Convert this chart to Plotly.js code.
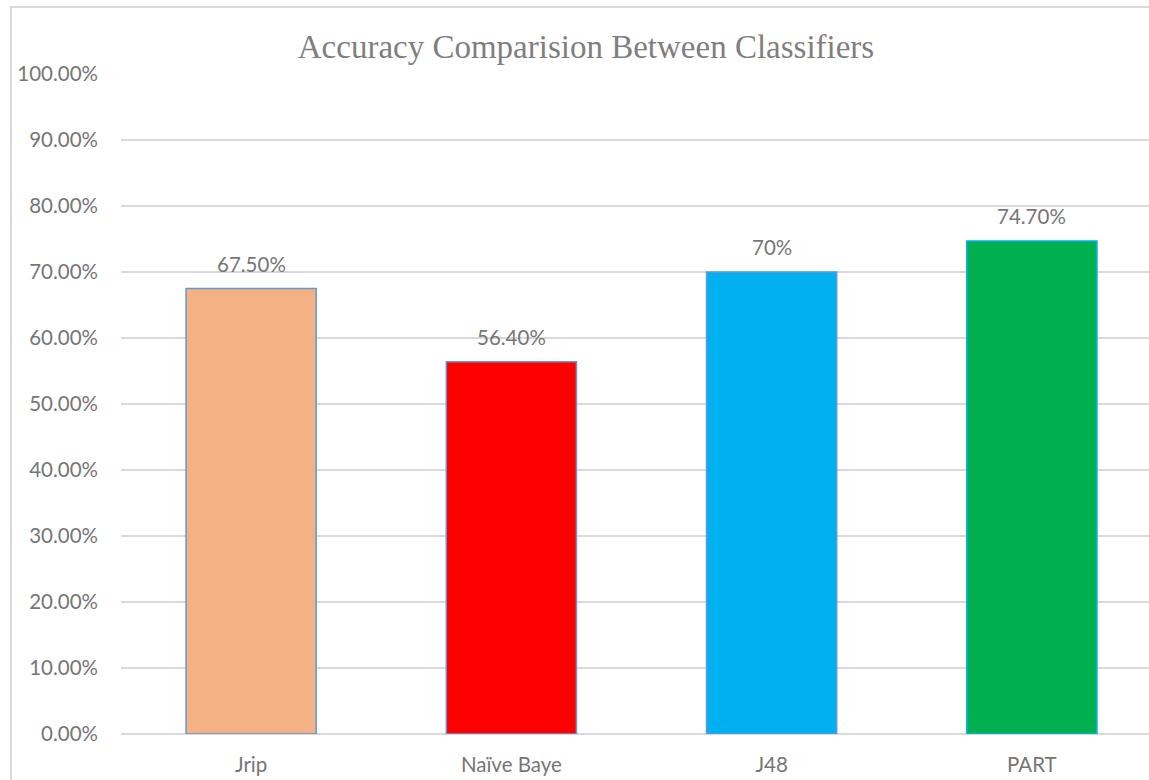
<!DOCTYPE html>
<html>
<head>
<meta charset="utf-8">
<script src="https://cdn.plot.ly/plotly-3.0.1.min.js"></script>
<style>
html,body{margin:0;padding:0;overflow:hidden;width:1149px;height:780px;background:#fff;}
#frame{position:absolute;left:10px;top:6px;width:2000px;height:2000px;border:2px solid #D9D9D9;pointer-events:none;z-index:5;}
#chart{position:absolute;left:0;top:0;}
</style>
</head>
<body>
<div id="chart"></div>
<div id="frame"></div>
<script>
const categories = ["Jrip", "Naïve Baye", "J48", "PART"];
const accuracy = [0.675, 0.564, 0.70, 0.747];
const dataLabels = ["67.50%", "56.40%", "70%", "74.70%"];
const barColors = ["#F4B183", "#FF0000", "#00B0F0", "#00B050"];
const outlineColors = ["#5B9BD5", "#5B9BD5", "#5B9BD5", "#00B0F0"];

const trace = {
  type: "bar",
  x: categories,
  y: accuracy,
  width: 0.5,
  marker: {color: barColors, line: {color: outlineColors, width: 1.5}},
  hoverinfo: "skip"
};

const annotations = categories.map((c, i) => ({
  x: c, y: accuracy[i], xref: "x", yref: "y",
  text: dataLabels[i], showarrow: false,
  yanchor: "bottom", yshift: 11,
  font: {family: "Lato, sans-serif", size: 20.5, color: "#767676"}
}));

const layout = {
  width: 1180, height: 780,
  margin: {l: 121, r: 18, t: 74, b: 46},
  paper_bgcolor: "rgba(0,0,0,0)",
  plot_bgcolor: "rgba(0,0,0,0)",
  showlegend: false,
  title: {
    text: "Accuracy Comparision Between Classifiers",
    xref: "container", yref: "container",
    x: 586/1180, xanchor: "center",
    y: 1 - 46/780, yanchor: "middle",
    font: {family: "Liberation Serif, Times New Roman, serif", size: 33, color: "#7F7F7F"}
  },
  xaxis: {
    type: "category",
    showgrid: false, zeroline: false, showline: false,
    ticks: "", ticklabelstandoff: 16,
    tickfont: {family: "Lato, sans-serif", size: 20.5, color: "#767676"}
  },
  yaxis: {
    range: [0, 1], dtick: 0.1, tick0: 0,
    tickformat: ".2%",
    showgrid: true, gridcolor: "#D9D9D9", gridwidth: 1.5,
    zeroline: true, zerolinecolor: "#D9D9D9", zerolinewidth: 1.5,
    showline: false, ticks: "", ticklabelstandoff: 22,
    tickfont: {family: "Lato, sans-serif", size: 20.5, color: "#767676"}
  },
  annotations: annotations
};

Plotly.newPlot("chart", [trace], layout, {displayModeBar: false, staticPlot: true});
</script>
</body>
</html>
